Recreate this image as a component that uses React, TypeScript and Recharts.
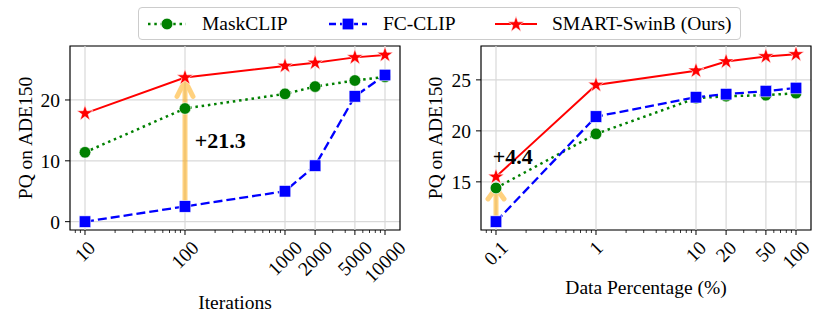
import React from 'react';
import { LineChart, Line, XAxis, YAxis, CartesianGrid, ReferenceLine, ReferenceArea, ReferenceDot, Label } from 'recharts';

const seriesNames = ['MaskCLIP', 'FC-CLIP', 'SMART-SwinB (Ours)'];

// left panel: PQ vs training iterations
const iterations = [10, 100, 1000, 2000, 5000, 10000];
const iterMaskClip = [11.4, 18.6, 21.0, 22.2, 23.2, 23.8];
const iterFcClip = [0.0, 2.5, 5.0, 9.2, 20.6, 24.1];
const iterSmart = [17.8, 23.7, 25.6, 26.1, 27.0, 27.4];
const iterTicks = [10, 100, 1000, 2000, 5000, 10000];
const iterMinorTicks = [8, 9, 20, 30, 40, 50, 60, 70, 80, 90, 200, 300, 400, 500, 600, 700, 800, 900, 3000, 4000, 6000, 7000, 8000, 9000];
const iterYTicks = [0, 10, 20];

// right panel: PQ vs data percentage
const dataPct = [0.1, 1, 10, 20, 50, 100];
const pctMaskClip = [14.4, 19.7, 23.2, 23.4, 23.5, 23.7];
const pctFcClip = [11.1, 21.4, 23.3, 23.6, 23.9, 24.2];
const pctSmart = [15.5, 24.5, 25.9, 26.8, 27.3, 27.5];
const pctTicks = [0.1, 1, 10, 20, 50, 100];
const pctMinorTicks = [0.08, 0.09, 0.2, 0.3, 0.4, 0.5, 0.6, 0.7, 0.8, 0.9, 2, 3, 4, 5, 6, 7, 8, 9, 30, 40, 60, 70, 80, 90];
const pctYTicks = [15, 20, 25];

const FONT = "'Liberation Serif', 'Times New Roman', serif";
const FS = 19.5;
const PLOT_BOTTOM = 230;
const GREEN = '#008000';
const BLUE = '#0000ff';
const RED = '#ff0000';
const GRID = '#d9d9d9';

const starPoints = (cx: number, cy: number, R: number) => {
  const r = R * 0.382;
  const pts: string[] = [];
  for (let i = 0; i < 10; i++) {
    const a = -Math.PI / 2 + (i * Math.PI) / 5;
    const rad = i % 2 === 0 ? R : r;
    pts.push(`${cx + rad * Math.cos(a)},${cy + rad * Math.sin(a)}`);
  }
  return pts.join(' ');
};

const CircleDot = (p: any) => <circle key={`c-${p.index}`} cx={p.cx} cy={p.cy} r={5.8} fill={GREEN} stroke="#fff" strokeWidth={0.6} />;
const SquareDot = (p: any) => <rect key={`s-${p.index}`} x={p.cx - 5.8} y={p.cy - 5.8} width={11.6} height={11.6} fill={BLUE} stroke="#fff" strokeWidth={0.6} />;
const StarDot = (p: any) => <polygon key={`r-${p.index}`} points={starPoints(p.cx, p.cy, 8.5)} fill={RED} stroke="#fff" strokeWidth={0.6} />;

const makeXTick = (labels: number[]) => (props: any) => {
  const { x, payload } = props;
  const v = payload.value;
  const major = labels.some((l) => Math.abs(l - v) / l < 1e-6);
  if (!major) {
    return <line x1={x} x2={x} y1={PLOT_BOTTOM} y2={PLOT_BOTTOM + 3} stroke="#000" strokeWidth={0.8} />;
  }
  const s = String(v);
  const w = s.replace('.', '').length * 0.5 * FS + (s.includes('.') ? 0.25 * FS : 0);
  const bh = (w + 13) * 0.7071;
  const cy = PLOT_BOTTOM + 10 + bh / 2;
  return (
    <g>
      <line x1={x} x2={x} y1={PLOT_BOTTOM} y2={PLOT_BOTTOM + 5} stroke="#000" strokeWidth={1} />
      <text x={x} y={cy} transform={`rotate(-45 ${x} ${cy})`} textAnchor="middle" dominantBaseline="central" fontSize={FS} fontFamily={FONT} fill="#000">
        {s}
      </text>
    </g>
  );
};

const arrowShape = (headW: number, headH: number) => (p: any) => {
  const x = p.x1;
  const top = Math.min(p.y1, p.y2);
  const bottom = Math.max(p.y1, p.y2);
  return (
    <g opacity={0.5}>
      <path d={`M${x},${bottom} L${x},${top + 2}`} stroke="#ffa500" strokeWidth={5} fill="none" />
      <path
        d={`M${x - headW},${top + headH} L${x},${top} L${x + headW},${top + headH}`}
        stroke="#ffa500"
        strokeWidth={5}
        strokeLinejoin="round"
        strokeLinecap="round"
        fill="none"
      />
    </g>
  );
};

const gainText = (txt: string) => (p: any) => (
  <text x={p.cx} y={p.cy} dominantBaseline="central" fontSize={22} fontWeight="bold" fontFamily={FONT} fill="#000">
    {txt}
  </text>
);

const yTitle = (cx: number) => () => (
  <text x={cx} y={138} transform={`rotate(-90 ${cx} 138)`} textAnchor="middle" dominantBaseline="central" fontSize={FS} fontFamily={FONT} fill="#000">
    PQ on ADE150
  </text>
);

const xTitle = (txt: string, cx: number, cy: number) => () => (
  <text x={cx} y={cy} textAnchor="middle" dominantBaseline="central" fontSize={FS} fontFamily={FONT} fill="#000">
    {txt}
  </text>
);

interface PanelProps {
  xs: number[];
  mask: number[];
  fc: number[];
  smart: number[];
  xDomain: [number, number];
  yDomain: [number, number];
  majors: number[];
  minors: number[];
  yTicks: number[];
  width: number;
  yWidth: number;
  rightMargin: number;
  xLabel: string;
  xLabelY: number;
  arrowFrom: { x: number; y: number };
  arrowTo: { x: number; y: number };
  headH: number;
  gainAt: { x: number; y: number };
  gain: string;
}

function Panel(props: PanelProps) {
  const data = props.xs.map((x, i) => ({ x, mask: props.mask[i], fc: props.fc[i], smart: props.smart[i] }));
  const plotLeft = props.yWidth;
  const plotRight = props.width - props.rightMargin;
  const ticks = [...props.majors, ...props.minors].sort((a, b) => a - b);
  return (
    <LineChart width={props.width} height={328} data={data} margin={{ top: 46, right: props.rightMargin, bottom: 38, left: 0 }}>
      <CartesianGrid vertical={false} stroke={GRID} strokeWidth={1.2} />
      {props.majors.map((t) => (
        <ReferenceLine key={t} x={t} stroke={GRID} strokeWidth={1.2} />
      ))}
      <XAxis
        dataKey="x"
        type="number"
        scale="log"
        domain={props.xDomain}
        allowDataOverflow
        ticks={ticks}
        interval={0}
        tickLine={false}
        axisLine={false}
        tick={makeXTick(props.majors)}
        height={60}
      >
        <Label content={xTitle(props.xLabel, (plotLeft + plotRight) / 2, props.xLabelY)} />
      </XAxis>
      <YAxis
        type="number"
        domain={props.yDomain}
        allowDataOverflow
        ticks={props.yTicks}
        width={props.yWidth}
        axisLine={false}
        tickLine={{ stroke: '#000' }}
        tickSize={5}
        tickMargin={5}
        tick={{ fill: '#000', fontSize: FS, fontFamily: FONT }}
      >
        <Label content={yTitle(25)} />
      </YAxis>
      <ReferenceArea x1={props.xDomain[0]} x2={props.xDomain[1]} y1={props.yDomain[0]} y2={props.yDomain[1]} fill="none" stroke="#000" strokeWidth={1.2} />
      <ReferenceDot x={props.gainAt.x} y={props.gainAt.y} r={0} shape={gainText(props.gain)} />
      <Line dataKey="mask" name={seriesNames[0]} type="linear" stroke={GREEN} strokeWidth={2.5} strokeDasharray="2.5 3.8" dot={CircleDot} isAnimationActive={false} />
      <Line dataKey="fc" name={seriesNames[1]} type="linear" stroke={BLUE} strokeWidth={2.3} strokeDasharray="9 4" dot={SquareDot} isAnimationActive={false} />
      <Line dataKey="smart" name={seriesNames[2]} type="linear" stroke={RED} strokeWidth={2} dot={StarDot} isAnimationActive={false} />
      <ReferenceLine segment={[props.arrowFrom, props.arrowTo]} shape={arrowShape(8, props.headH)} />
    </LineChart>
  );
}

const LegendHandle = ({ kind }: { kind: number }) => {
  if (kind === 0)
    return (
      <svg width={40} height={20}>
        <line x1={1} x2={39} y1={10} y2={10} stroke={GREEN} strokeWidth={2.5} strokeDasharray="2.5 3.8" />
        <circle cx={20} cy={10} r={5.8} fill={GREEN} stroke="#fff" strokeWidth={0.6} />
      </svg>
    );
  if (kind === 1)
    return (
      <svg width={40} height={20}>
        <line x1={1} x2={39} y1={10} y2={10} stroke={BLUE} strokeWidth={2.3} strokeDasharray="7 4" />
        <rect x={14.2} y={4.2} width={11.6} height={11.6} fill={BLUE} stroke="#fff" strokeWidth={0.6} />
      </svg>
    );
  return (
    <svg width={44} height={20}>
      <line x1={1} x2={43} y1={10} y2={10} stroke={RED} strokeWidth={2} />
      <polygon points={starPoints(22, 10.5, 8.5)} fill={RED} stroke="#fff" strokeWidth={0.6} />
    </svg>
  );
};

const legendSlots = [
  { handle: 147, text: 202 },
  { handle: 328, text: 383 },
  { handle: 494, text: 552 },
];

export default function App() {
  return (
    <div style={{ position: 'absolute', left: 0, top: 0, width: 831, height: 328, background: '#fff', fontFamily: FONT, overflow: 'hidden' }}>
      <div style={{ position: 'absolute', left: 0, top: 0 }}>
        <Panel
          xs={iterations}
          mask={iterMaskClip}
          fc={iterFcClip}
          smart={iterSmart}
          xDomain={[7.08, 14125]}
          yDomain={[-1.37, 28.87]}
          majors={iterTicks}
          minors={iterMinorTicks}
          yTicks={iterYTicks}
          width={410}
          yWidth={70}
          rightMargin={10}
          xLabel="Iterations"
          xLabelY={302}
          arrowFrom={{ x: 100, y: 2.9 }}
          arrowTo={{ x: 100, y: 23.2 }}
          headH={16}
          gainAt={{ x: 125, y: 13.4 }}
          gain="+21.3"
        />
      </div>
      <div style={{ position: 'absolute', left: 410, top: 0 }}>
        <Panel
          xs={dataPct}
          mask={pctMaskClip}
          fc={pctFcClip}
          smart={pctSmart}
          xDomain={[0.0708, 141.25]}
          yDomain={[10.28, 28.32]}
          majors={pctTicks}
          minors={pctMinorTicks}
          yTicks={pctYTicks}
          width={421}
          yWidth={71}
          rightMargin={20}
          xLabel="Data Percentage (%)"
          xLabelY={287}
          arrowFrom={{ x: 0.1, y: 11.4 }}
          arrowTo={{ x: 0.1, y: 14.4 }}
          headH={11}
          gainAt={{ x: 0.0927, y: 17.5 }}
          gain="+4.4"
        />
      </div>
      <div
        style={{
          position: 'absolute',
          left: 138,
          top: 7,
          width: 603,
          height: 33,
          boxSizing: 'border-box',
          border: '1.2px solid #cccccc',
          borderRadius: 4,
          background: '#fff',
        }}
      >
        {seriesNames.map((name, i) => (
          <React.Fragment key={name}>
            <div style={{ position: 'absolute', left: legendSlots[i].handle - 139, top: 6 }}>
              <LegendHandle kind={i} />
            </div>
            <div style={{ position: 'absolute', left: legendSlots[i].text - 139, top: 4, fontSize: FS, lineHeight: '24px', whiteSpace: 'nowrap', color: '#000' }}>
              {name}
            </div>
          </React.Fragment>
        ))}
      </div>
    </div>
  );
}
